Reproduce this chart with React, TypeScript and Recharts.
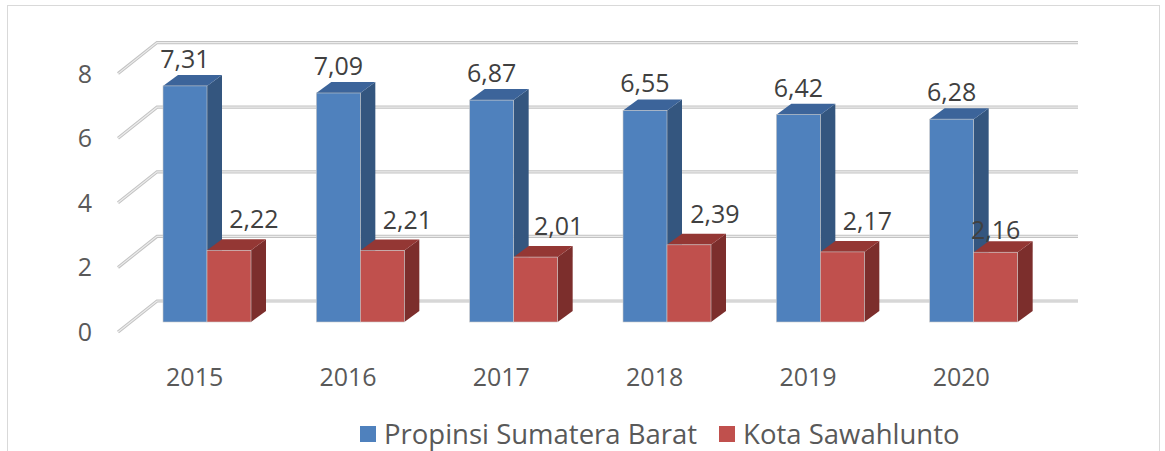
import { BarChart, Bar, XAxis, YAxis, CartesianGrid, Legend, LabelList } from 'recharts';

const years = ['2015', '2016', '2017', '2018', '2019', '2020'];
const propinsi = [7.31, 7.09, 6.87, 6.55, 6.42, 6.28];
const kota = [2.22, 2.21, 2.01, 2.39, 2.17, 2.16];
const yTicks = [0, 2, 4, 6, 8];

const data = years.map((year, i) => ({ year, propinsi: propinsi[i], kota: kota[i] }));

// 3D depth of the bars and of the floor/back wall
const DX = 15;
const DY = 11;
const FLOOR_FRONT_DX = -12;
const FLOOR_FRONT_DY = 10;
const WALL_DX = 27;
const WALL_DY = -21;

const FONT = '"Open Sans", sans-serif';

const fmt = (v: number) => v.toFixed(2).replace('.', ',');

function makeBar3D(front: string, side: string, top: string) {
  return (props: any) => {
    const { x, y, width, height } = props;
    if (height == null || width == null) return <g />;
    return (
      <g>
        <polygon
          points={`${x + width},${y} ${x + width + DX},${y - DY} ${x + width + DX},${y + height - DY} ${x + width},${y + height}`}
          fill={side}
        />
        <polygon
          points={`${x},${y} ${x + DX},${y - DY} ${x + width + DX},${y - DY} ${x + width},${y}`}
          fill={top}
        />
        <rect x={x} y={y} width={width} height={height} fill={front} stroke="#c9c9c9" strokeWidth={0.6} />
      </g>
    );
  };
}

const BlueBar = makeBar3D('#4f81bd', '#34567f', '#3c649a');
const RedBar = makeBar3D('#c0504d', '#7c2e2c', '#943734');

// label nudges of the Excel auto placement (style only)
const redLabelDx = [25, 25, 23, 26, 25, 0];
const redLabelDy = [0, 0, 0, 0, 0, 9];

const blueLabel = (props: any) => {
  const { x, y, width, value } = props;
  return (
    <text x={x + width / 2} y={y - 18} textAnchor="middle" fill="#404040" fontSize={25} fontFamily={FONT}>
      {fmt(value)}
    </text>
  );
};

const redLabel = (props: any) => {
  const { x, y, width, value, index } = props;
  return (
    <text
      x={x + width / 2 + redLabelDx[index]}
      y={y - 22 + redLabelDy[index]}
      textAnchor="middle"
      fill="#404040"
      fontSize={25}
      fontFamily={FONT}
    >
      {fmt(value)}
    </text>
  );
};

const gridLine = (props: any) => {
  const { x1, x2, y1 } = props;
  const fx = x1 + FLOOR_FRONT_DX;
  const fy = y1 + FLOOR_FRONT_DY;
  const bx = x1 + WALL_DX;
  const by = y1 + WALL_DY;
  const ex = x2 + 28;
  const pts = `${fx},${fy} ${bx},${by} ${ex},${by}`;
  return (
    <g key={`g-${y1}`}>
      <polyline points={pts} fill="none" stroke="#c3c3c3" strokeWidth={3.2} />
      <polyline points={pts} fill="none" stroke="#ececec" strokeWidth={1.2} />
    </g>
  );
};

const xTick = (props: any) => {
  const { x, y, payload } = props;
  return (
    <text x={x + FLOOR_FRONT_DX} y={y + 56} textAnchor="middle" fill="#595959" fontSize={25} fontFamily={FONT}>
      {payload.value}
    </text>
  );
};

const yTick = (props: any) => {
  const { y, payload } = props;
  return (
    <text x={92} y={y + FLOOR_FRONT_DY + 9} textAnchor="end" fill="#595959" fontSize={25} fontFamily={FONT}>
      {payload.value}
    </text>
  );
};

const legendContent = () => (
  <div
    style={{
      display: 'flex',
      alignItems: 'center',
      fontFamily: FONT,
      fontSize: 27.5,
      lineHeight: '34px',
      color: '#595959',
      whiteSpace: 'nowrap',
    }}
  >
    <span style={{ display: 'inline-block', width: 16, height: 16, background: '#4f81bd', marginRight: 8 }} />
    <span style={{ marginRight: 22 }}>Propinsi Sumatera Barat</span>
    <span style={{ display: 'inline-block', width: 16, height: 16, background: '#c0504d', marginRight: 8 }} />
    <span>Kota Sawahlunto</span>
  </div>
);

export default function App() {
  return (
    <div style={{ position: 'absolute', left: 0, top: 0, width: 1165, height: 451, background: '#fff', overflow: 'hidden' }}>
      <div
        style={{
          position: 'absolute',
          left: 7,
          top: 5,
          width: 1153,
          height: 470,
          border: '1.5px solid #d9d9d9',
          boxSizing: 'border-box',
        }}
      />
      <BarChart
        width={1165}
        height={451}
        data={data}
        margin={{ top: 63.6, right: 115, bottom: 99, left: 0 }}
        barGap={0}
        barSize={44}
        style={{ position: 'absolute', left: 0, top: 0 }}
      >
        <CartesianGrid vertical={false} horizontal={gridLine} />
        <XAxis dataKey="year" axisLine={false} tickLine={false} tick={xTick} height={30} />
        <YAxis domain={[0, 8]} ticks={yTicks} axisLine={false} tickLine={false} tick={yTick} width={130} />
        <Legend
          verticalAlign="bottom"
          content={legendContent}
          wrapperStyle={{ position: 'absolute', left: 360, top: 417, width: 'auto', height: 0 }}
        />
        <Bar dataKey="propinsi" shape={BlueBar} isAnimationActive={false}>
          <LabelList dataKey="propinsi" content={blueLabel} />
        </Bar>
        <Bar dataKey="kota" shape={RedBar} isAnimationActive={false}>
          <LabelList dataKey="kota" content={redLabel} />
        </Bar>
      </BarChart>
    </div>
  );
}
